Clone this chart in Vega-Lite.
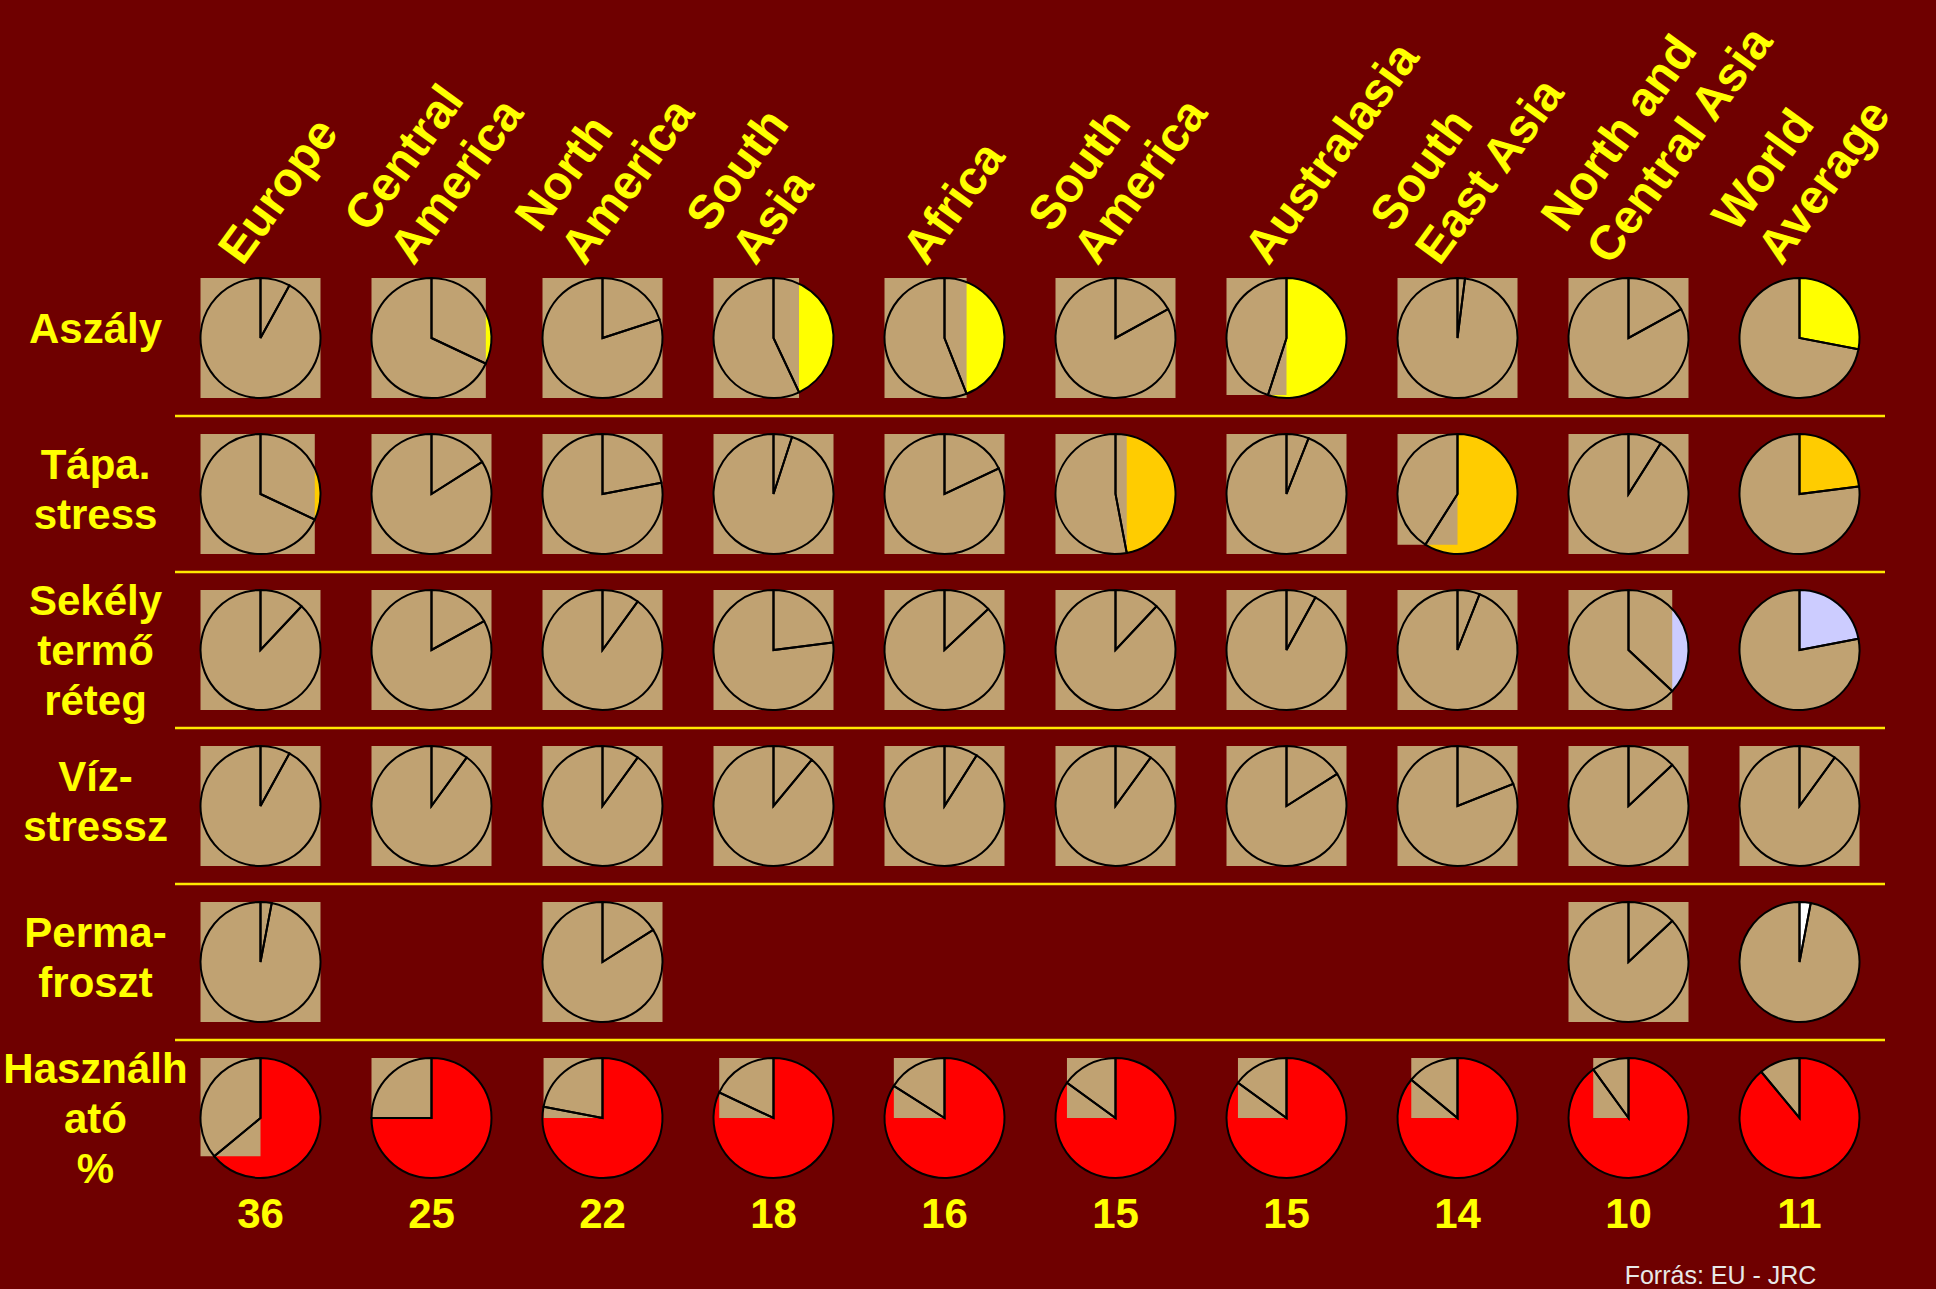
{
  "$schema": "https://vega.github.io/schema/vega-lite/v6.json",
  "background": "#6F0000",
  "padding": {"left": 3, "top": -15, "right": 40, "bottom": 12},
  "bounds": "flush",
  "data": {"values": [
    {"region": "Europe", "category": "Aszály", "value": 8},
    {"region": "Central\nAmerica", "category": "Aszály", "value": 32},
    {"region": "North\nAmerica", "category": "Aszály", "value": 20},
    {"region": "South\nAsia", "category": "Aszály", "value": 43},
    {"region": "Africa", "category": "Aszály", "value": 44},
    {"region": "South\nAmerica", "category": "Aszály", "value": 17},
    {"region": "Australasia", "category": "Aszály", "value": 55},
    {"region": "South\nEast Asia", "category": "Aszály", "value": 2},
    {"region": "North and\nCentral Asia", "category": "Aszály", "value": 17},
    {"region": "World\nAverage", "category": "Aszály", "value": 28},
    {"region": "Europe", "category": "Tápa.\nstress", "value": 32},
    {"region": "Central\nAmerica", "category": "Tápa.\nstress", "value": 16},
    {"region": "North\nAmerica", "category": "Tápa.\nstress", "value": 22},
    {"region": "South\nAsia", "category": "Tápa.\nstress", "value": 5},
    {"region": "Africa", "category": "Tápa.\nstress", "value": 18},
    {"region": "South\nAmerica", "category": "Tápa.\nstress", "value": 47},
    {"region": "Australasia", "category": "Tápa.\nstress", "value": 6},
    {"region": "South\nEast Asia", "category": "Tápa.\nstress", "value": 59},
    {"region": "North and\nCentral Asia", "category": "Tápa.\nstress", "value": 9},
    {"region": "World\nAverage", "category": "Tápa.\nstress", "value": 23},
    {"region": "Europe", "category": "Sekély\ntermő\nréteg", "value": 12},
    {"region": "Central\nAmerica", "category": "Sekély\ntermő\nréteg", "value": 17},
    {"region": "North\nAmerica", "category": "Sekély\ntermő\nréteg", "value": 10},
    {"region": "South\nAsia", "category": "Sekély\ntermő\nréteg", "value": 23},
    {"region": "Africa", "category": "Sekély\ntermő\nréteg", "value": 13},
    {"region": "South\nAmerica", "category": "Sekély\ntermő\nréteg", "value": 12},
    {"region": "Australasia", "category": "Sekély\ntermő\nréteg", "value": 8},
    {"region": "South\nEast Asia", "category": "Sekély\ntermő\nréteg", "value": 6},
    {"region": "North and\nCentral Asia", "category": "Sekély\ntermő\nréteg", "value": 37},
    {"region": "World\nAverage", "category": "Sekély\ntermő\nréteg", "value": 22},
    {"region": "Europe", "category": "Víz-\nstressz", "value": 8},
    {"region": "Central\nAmerica", "category": "Víz-\nstressz", "value": 10},
    {"region": "North\nAmerica", "category": "Víz-\nstressz", "value": 10},
    {"region": "South\nAsia", "category": "Víz-\nstressz", "value": 11},
    {"region": "Africa", "category": "Víz-\nstressz", "value": 9},
    {"region": "South\nAmerica", "category": "Víz-\nstressz", "value": 10},
    {"region": "Australasia", "category": "Víz-\nstressz", "value": 16},
    {"region": "South\nEast Asia", "category": "Víz-\nstressz", "value": 19},
    {"region": "North and\nCentral Asia", "category": "Víz-\nstressz", "value": 13},
    {"region": "World\nAverage", "category": "Víz-\nstressz", "value": 10},
    {"region": "Europe", "category": "Perma-\nfroszt", "value": 3},
    {"region": "Central\nAmerica", "category": "Perma-\nfroszt", "value": null},
    {"region": "North\nAmerica", "category": "Perma-\nfroszt", "value": 16},
    {"region": "South\nAsia", "category": "Perma-\nfroszt", "value": null},
    {"region": "Africa", "category": "Perma-\nfroszt", "value": null},
    {"region": "South\nAmerica", "category": "Perma-\nfroszt", "value": null},
    {"region": "Australasia", "category": "Perma-\nfroszt", "value": null},
    {"region": "South\nEast Asia", "category": "Perma-\nfroszt", "value": null},
    {"region": "North and\nCentral Asia", "category": "Perma-\nfroszt", "value": 13},
    {"region": "World\nAverage", "category": "Perma-\nfroszt", "value": 3},
    {"region": "Europe", "category": "Használh\nató\n%", "value": 64, "usable": 36},
    {"region": "Central\nAmerica", "category": "Használh\nató\n%", "value": 75, "usable": 25},
    {"region": "North\nAmerica", "category": "Használh\nató\n%", "value": 78, "usable": 22},
    {"region": "South\nAsia", "category": "Használh\nató\n%", "value": 82, "usable": 18},
    {"region": "Africa", "category": "Használh\nató\n%", "value": 84, "usable": 16},
    {"region": "South\nAmerica", "category": "Használh\nató\n%", "value": 85, "usable": 15},
    {"region": "Australasia", "category": "Használh\nató\n%", "value": 85, "usable": 15},
    {"region": "South\nEast Asia", "category": "Használh\nató\n%", "value": 86, "usable": 14},
    {"region": "North and\nCentral Asia", "category": "Használh\nató\n%", "value": 90, "usable": 10},
    {"region": "World\nAverage", "category": "Használh\nató\n%", "value": 89, "usable": 11}
  ]},
  "facet": {
    "column": {"field": "region", "type": "nominal", "title": null, "header": {"labels": false, "title": null, "labelPadding": 0, "titlePadding": 0},
      "sort": ["Europe", "Central\nAmerica", "North\nAmerica", "South\nAsia", "Africa", "South\nAmerica", "Australasia", "South\nEast Asia", "North and\nCentral Asia", "World\nAverage"]},
    "row": {"field": "category", "type": "nominal", "title": null, "header": {"labels": false, "title": null, "labelPadding": 0, "titlePadding": 0},
      "sort": ["Aszály", "Tápa.\nstress", "Sekély\ntermő\nréteg", "Víz-\nstressz", "Perma-\nfroszt", "Használh\nató\n%"]}
  },
  "spacing": {"row": 0, "column": 0},
  "spec": {
    "width": 171,
    "height": 156,
    "layer": [
      {
        "transform": [{"filter": {"field": "category", "oneOf": ["Aszály", "Tápa.\nstress", "Sekély\ntermő\nréteg", "Víz-\nstressz"]}}],
        "mark": {"type": "rule", "color": "#FFE800", "strokeWidth": 2.5},
        "encoding": {"y": {"datum": -1.3, "type": "quantitative", "scale": {"domain": [-1.3, 1.3], "nice": false, "zero": false}, "axis": null}}
      },
      {
        "transform": [{"filter": {"field": "category", "equal": "Használh\nató\n%"}}],
        "mark": {"type": "rule", "color": "#FFE800", "strokeWidth": 2.5},
        "encoding": {"y": {"datum": 1.3, "type": "quantitative", "axis": null}}
      },
      {
        "transform": [{"filter": "isValid(datum.value)"}],
        "mark": {"type": "arc", "outerRadius": 60},
        "encoding": {
          "theta": {"field": "value", "type": "quantitative", "stack": null, "scale": {"domain": [0, 100], "range": [0, 6.283185307179586]}},
          "theta2": {"value": 0},
          "color": {"field": "category", "type": "nominal", "legend": null,
            "scale": {"domain": ["Aszály", "Tápa.\nstress", "Sekély\ntermő\nréteg", "Víz-\nstressz", "Perma-\nfroszt", "Használh\nató\n%"],
                      "range": ["#FFFF00", "#FFCC00", "#CCCCFF", "#99CCFF", "#FFFFFF", "#FF0000"]}}
        }
      },
      {
        "transform": [
          {"filter": "isValid(datum.value)"},
          {"filter": {"or": [{"not": {"field": "region", "equal": "World\nAverage"}}, {"field": "category", "equal": "Víz-\nstressz"}]}},
          {"calculate": "datum.value * PI / 50", "as": "ang"},
          {"calculate": "datum.value <= 75 ? -1 : sin(datum.ang)", "as": "bx1"},
          {"calculate": "datum.value <= 25 ? 1 : (datum.value <= 50 ? sin(datum.ang) : 0)", "as": "bx2"},
          {"calculate": "datum.value <= 50 ? -1 : (datum.value <= 75 ? cos(datum.ang) : 0)", "as": "by1"}
        ],
        "mark": {"type": "rect", "color": "#C0A272"},
        "encoding": {
          "x": {"field": "bx1", "type": "quantitative", "scale": {"domain": [-1.425, 1.425], "nice": false, "zero": false}, "axis": null},
          "x2": {"field": "bx2"},
          "y": {"field": "by1", "type": "quantitative", "axis": null},
          "y2": {"datum": 1}
        }
      },
      {
        "transform": [{"filter": "isValid(datum.value)"}],
        "mark": {"type": "arc", "outerRadius": 60, "fill": "#C0A272", "stroke": "#000000", "strokeWidth": 2},
        "encoding": {
          "theta": {"field": "value", "type": "quantitative", "stack": null},
          "theta2": {"value": 6.283185307179586}
        }
      },
      {
        "transform": [{"filter": "isValid(datum.value)"}],
        "mark": {"type": "arc", "outerRadius": 60, "fill": "#000000", "fillOpacity": 0, "stroke": "#000000", "strokeWidth": 2},
        "encoding": {
          "theta": {"field": "value", "type": "quantitative", "stack": null},
          "theta2": {"value": 0}
        }
      },
      {
        "transform": [{"filter": {"field": "category", "equal": "Aszály"}}],
        "mark": {"type": "text", "angle": -54, "align": "left", "baseline": "bottom", "radius": 66, "theta": -0.15, "dy": {"expr": "-(length(split(datum.region, '\\n')) - 1) * 56"}, "fontSize": 48, "fontWeight": "bold", "font": "Liberation Sans, Arial", "color": "#FFFF00", "lineBreak": "\n", "lineHeight": 56},
        "encoding": {"text": {"field": "region"}}
      },
      {
        "transform": [{"filter": {"field": "region", "equal": "Europe"}}],
        "mark": {"type": "text", "align": "center", "baseline": "middle", "dx": -165, "dy": {"expr": "-8 - (length(split(datum.category, '\\n')) - 1) * 20"}, "fontSize": 42, "fontWeight": "bold", "font": "Liberation Sans, Arial", "color": "#FFFF00", "lineBreak": "\n", "lineHeight": 50},
        "encoding": {"text": {"field": "category"}}
      },
      {
        "transform": [{"filter": "isValid(datum.usable)"}],
        "mark": {"type": "text", "align": "center", "baseline": "middle", "dy": 97, "fontSize": 42, "fontWeight": "bold", "font": "Liberation Sans Narrow, Liberation Sans, Arial", "color": "#FFFF00"},
        "encoding": {"text": {"field": "usable", "type": "quantitative"}}
      },
      {
        "transform": [{"filter": "isValid(datum.usable) && datum.usable == 11"}],
        "mark": {"type": "text", "align": "center", "baseline": "middle", "dx": -79, "dy": 158, "fontSize": 25, "font": "Liberation Sans Narrow, Liberation Sans, Arial", "color": "#E8E8E8"},
        "encoding": {"text": {"value": "Forrás: EU - JRC"}}
      }
    ]
  },
  "config": {"view": {"stroke": null}}
}
